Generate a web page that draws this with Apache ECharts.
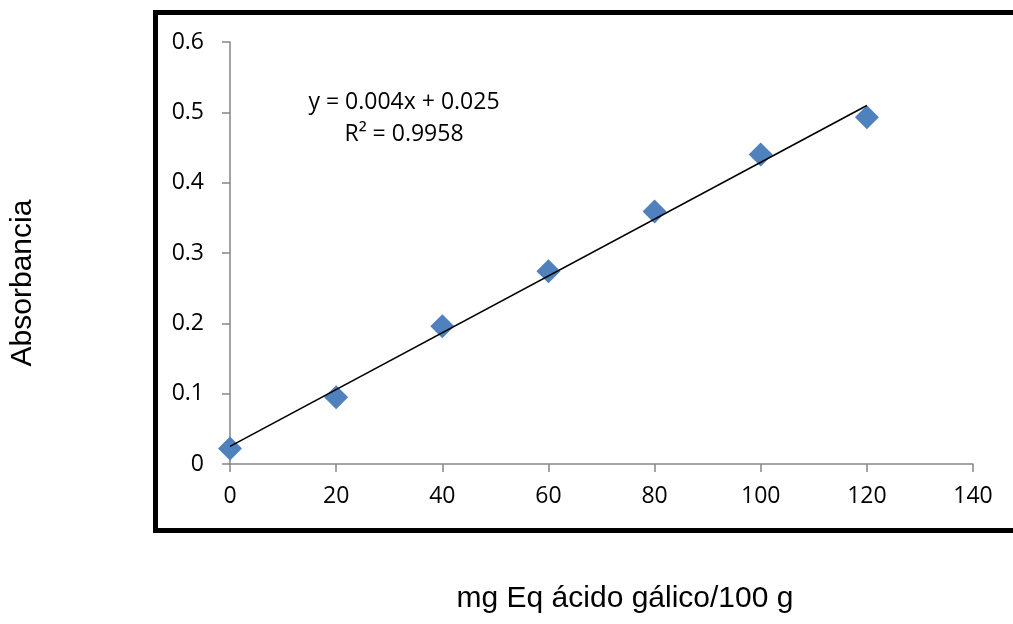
<!DOCTYPE html>
<html>
<head>
<meta charset="utf-8">
<script src="https://cdn.jsdelivr.net/npm/echarts@6/dist/echarts.min.js"></script>
<style>
  html, body { margin: 0; padding: 0; background: #fff; }
  #chart { width: 1013px; height: 624px; }
</style>
</head>
<body>
<div id="chart"></div>
<script>
// concentraciones (mg Eq ácido gálico/100 g) y absorbancias leídas
var concentracion = [0, 20, 40, 60, 80, 100, 120];
var absorbancia = [0.022, 0.095, 0.196, 0.274, 0.359, 0.44, 0.493];
// recta de ajuste (Excel)
var pendiente = 0.00404;
var intercepto = 0.025;
var ecuacion = ['y = 0.004x + 0.025', 'R² = 0.9958'];
var xTicks = { min: 0, max: 140, interval: 20 };
var yTicks = { min: 0, max: 0.6, interval: 0.1 };

var chart = echarts.init(document.getElementById('chart'));

var puntos = concentracion.map(function (x, i) { return [x, absorbancia[i]]; });
var xFin = concentracion[concentracion.length - 1];
var tendencia = [[0, intercepto], [xFin, intercepto + pendiente * xFin]];

var gris = '#868686';
var fuente = '"Open Sans"';

var option = {
  backgroundColor: '#fff',
  animation: false,
  grid: { left: 230, right: 40, top: 42, bottom: 160 },
  xAxis: {
    type: 'value',
    min: xTicks.min, max: xTicks.max, interval: xTicks.interval,
    axisLine: { show: true, lineStyle: { color: gris, width: 1.5 } },
    axisTick: { show: true, length: 8, lineStyle: { color: gris, width: 1.5 } },
    axisLabel: { color: '#000', fontFamily: fuente, fontSize: 23, margin: 21 },
    splitLine: { show: false }
  },
  yAxis: {
    type: 'value',
    min: yTicks.min, max: yTicks.max, interval: yTicks.interval,
    axisLine: { show: true, lineStyle: { color: gris, width: 1.5 } },
    axisTick: { show: true, length: 8, lineStyle: { color: gris, width: 1.5 } },
    axisLabel: { color: '#000', fontFamily: fuente, fontSize: 23, margin: 26 },
    splitLine: { show: false }
  },
  series: [
    {
      type: 'scatter',
      data: puntos,
      symbol: 'diamond',
      symbolSize: 24,
      itemStyle: { color: '#4F81BD', opacity: 1 },
      z: 2
    },
    {
      type: 'line',
      data: tendencia,
      showSymbol: false,
      symbol: 'none',
      lineStyle: { color: '#000', width: 1.6 },
      z: 3
    }
  ],
  graphic: [
    {
      type: 'rect',
      shape: { x: 155.5, y: 12.5, width: 900, height: 518 },
      style: { fill: 'none', stroke: '#000', lineWidth: 5 },
      silent: true
    },
    {
      type: 'text',
      style: {
        text: ecuacion.join('\n'),
        x: 404, y: 86,
        align: 'center',
        fill: '#000',
        font: '23px "Open Sans"',
        lineHeight: 32
      }
    },
    {
      type: 'text',
      style: {
        text: 'Absorbancia',
        x: 0, y: 0,
        align: 'center', verticalAlign: 'middle',
        fill: '#000',
        font: '30px "Liberation Sans", Arial'
      },
      x: 23, y: 283, rotation: Math.PI / 2
    },
    {
      type: 'text',
      style: {
        text: 'mg Eq ácido gálico/100 g',
        x: 625, y: 599,
        align: 'center', verticalAlign: 'middle',
        fill: '#000',
        font: '30px "Liberation Sans", Arial'
      }
    }
  ]
};

chart.setOption(option);
</script>
</body>
</html>
